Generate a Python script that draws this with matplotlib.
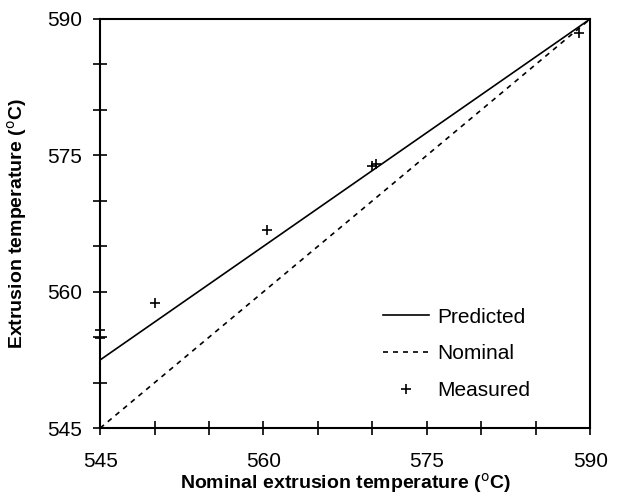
import matplotlib
matplotlib.use('Agg')
import matplotlib.pyplot as plt
import numpy as np

# data
pred_x = [545, 590]
pred_y = [552.5, 590]
nom_x = [545, 590]
nom_y = [545, 590]
meas_x = [545, 545, 550, 560.3, 570, 570.3, 589]
meas_y = [555.8, 554.9, 558.8, 566.8, 573.8, 574.0, 588.5]

plt.rcParams['font.family'] = ['Liberation Sans', 'DejaVu Sans']

fig = plt.figure(figsize=(6.18, 4.99), dpi=100)
ax = fig.add_axes([0.162, 0.142, 0.793, 0.820])

ax.plot(pred_x, pred_y, color='black', lw=1.2, label='Predicted')
ax.plot(nom_x, nom_y, color='black', lw=1.2, ls=(0, (3, 3)), label='Nominal')
ax.plot(meas_x, meas_y, ls='none', marker='+', color='black', ms=7, mew=1.2,
        label='Measured', clip_on=False)

ax.set_xlim(545, 590)
ax.set_ylim(545, 590)
ax.set_xticks([545, 560, 575, 590])
ax.set_yticks([545, 560, 575, 590])
ax.set_xticks(np.arange(545, 591, 5), minor=True)
ax.set_yticks(np.arange(545, 591, 5), minor=True)
ax.tick_params(which='both', direction='inout', length=10, width=1.2, labelsize=15)
ax.tick_params(axis='x', pad=12)
ax.tick_params(axis='y', pad=8)
for s in ax.spines.values():
    s.set_linewidth(1.5)

ax.set_xlabel('Nominal extrusion temperature ($^{\\rm o}$C)', fontsize=14,
              fontweight='bold', va='center')
ax.set_ylabel('Extrusion temperature ($^{\\rm o}$C)', fontsize=14,
              fontweight='bold', va='center')
ax.xaxis.set_label_coords(0.5, -0.134)
ax.yaxis.set_label_coords(-0.169, 0.5)

ax.legend(loc='lower left', bbox_to_anchor=(0.56, 0.048), frameon=False,
          fontsize=15, handlelength=2.2, handletextpad=0.4, labelspacing=0.85,
          borderaxespad=0)

plt.savefig('out.png', dpi=100)
